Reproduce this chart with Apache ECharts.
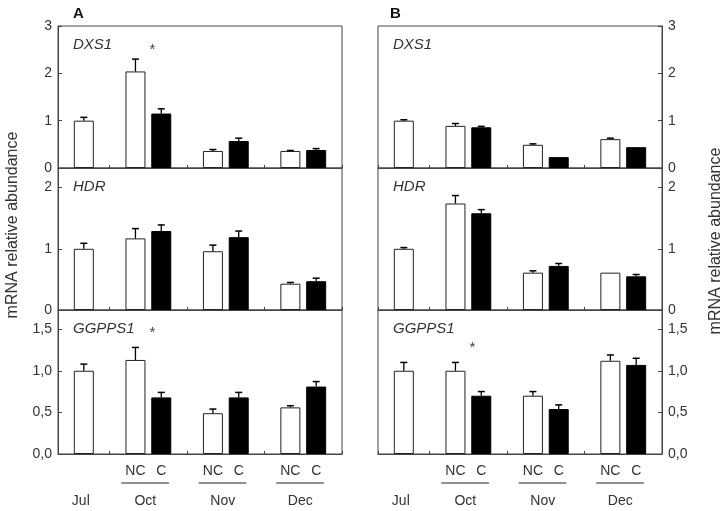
<!DOCTYPE html>
<html><head><meta charset="utf-8">
<script src="https://cdn.jsdelivr.net/npm/echarts@6/dist/echarts.min.js"></script>
<style>html,body{margin:0;padding:0;background:#fff}#c{width:727px;height:511px}</style>
</head><body><div id="c"></div>
<script>
// ---- data ----
const slotLabels = ['', '', '', 'NC', 'C', '', 'NC', 'C', '', 'NC', 'C', ''];
const slotMonths = ['', 'Jul', '', 'Oct', 'Oct', '', 'Nov', 'Nov', '', 'Dec', 'Dec', ''];
const monthNames = ['Jul', 'Oct', 'Nov', 'Dec'];
const genes = ['DXS1', 'HDR', 'GGPPS1'];
const panels = ['A', 'B'];
// bar order: Jul, Oct NC, Oct C, Nov NC, Nov C, Dec NC, Dec C
const A_DXS1 = [1.00, 2.04, 1.15, 0.36, 0.57, 0.36, 0.38];
const A_DXS1_err = [0.07, 0.26, 0.10, 0.03, 0.06, 0.01, 0.03];
const A_HDR = [1.00, 1.17, 1.29, 0.96, 1.19, 0.43, 0.47];
const A_HDR_err = [0.09, 0.16, 0.10, 0.10, 0.10, 0.02, 0.05];
const A_GGPPS1 = [1.00, 1.13, 0.68, 0.49, 0.68, 0.56, 0.81];
const A_GGPPS1_err = [0.08, 0.15, 0.06, 0.05, 0.06, 0.02, 0.06];
const B_DXS1 = [1.00, 0.89, 0.86, 0.49, 0.23, 0.61, 0.44];
const B_DXS1_err = [0.02, 0.05, 0.02, 0.02, 0.00, 0.02, 0.00];
const B_HDR = [1.00, 1.74, 1.58, 0.61, 0.72, 0.61, 0.55];
const B_HDR_err = [0.02, 0.13, 0.06, 0.03, 0.04, 0.00, 0.03];
const B_GGPPS1 = [1.00, 1.00, 0.70, 0.70, 0.54, 1.12, 1.07];
const B_GGPPS1_err = [0.10, 0.10, 0.05, 0.05, 0.05, 0.07, 0.08];
// significance marks: [panel, gene, month, height]
const sigMarks = [['A', 'DXS1', 'Oct', 2.5], ['A', 'GGPPS1', 'Oct', 1.45], ['B', 'GGPPS1', 'Oct', 1.27]];
const yMax = {DXS1: 3, HDR: 2.32, GGPPS1: 1.73};
const yStep = {DXS1: 1, HDR: 1, GGPPS1: 0.5};
const yDecimals = {DXS1: 0, HDR: 0, GGPPS1: 1};
const yName = 'mRNA relative abundance';

const dataSets = {
  A: {DXS1: [A_DXS1, A_DXS1_err], HDR: [A_HDR, A_HDR_err], GGPPS1: [A_GGPPS1, A_GGPPS1_err]},
  B: {DXS1: [B_DXS1, B_DXS1_err], HDR: [B_HDR, B_HDR_err], GGPPS1: [B_GGPPS1, B_GGPPS1_err]}
};

// ---- layout ----
const FONT = 'Liberation Sans, Arial, sans-serif';
const TXT = '#333';
const LINE = '#444';
const gridX = {A: {left: 58, width: 284}, B: {left: 378, width: 284}};
const gridY = [{top: 26, height: 142}, {top: 168, height: 142}, {top: 310, height: 144}];

const barSlots = slotMonths.map((m, i) => m ? i : -1).filter(i => i >= 0);
const halfCats = [];
for (let i = 0; i < slotLabels.length * 2 - 1; i++) halfCats.push('');
monthNames.forEach(m => {
  const idx = slotMonths.map((s, i) => s === m ? i : -1).filter(i => i >= 0);
  const mid = idx.reduce((a, b) => a + b, 0) / idx.length;
  halfCats[Math.round(mid * 2)] = m;
});

const grids = [], xAxes = [], yAxes = [], series = [], titles = [];
let gi = 0, xi = 0;
const bottomAxes = [];
panels.forEach((p, pi) => {
  titles.push({text: p, left: p === 'A' ? 68 : 385, top: 1, textStyle: {fontFamily: FONT, fontSize: 15, fontWeight: 'bold', color: '#111'}});
  genes.forEach((g, ri) => {
    grids.push({left: gridX[p].left, width: gridX[p].width, top: gridY[ri].top, height: gridY[ri].height,
      show: true, borderColor: LINE, borderWidth: 1, backgroundColor: 'transparent'});
    titles.push({text: g, left: gridX[p].left + 10, top: gridY[ri].top + 6,
      textStyle: {fontFamily: FONT, fontSize: 15, fontStyle: 'italic', fontWeight: 'normal', color: TXT}});
    const isBottom = ri === genes.length - 1;
    const mainX = xi;
    xAxes.push({gridIndex: gi, type: 'category', data: slotLabels, boundaryGap: false,
      axisLine: {lineStyle: {color: LINE}}, axisTick: {show: true, inside: true, length: 3, lineStyle: {color: LINE}},
      axisLabel: {show: isBottom, interval: 0, margin: 10, fontFamily: FONT, fontSize: 14, color: TXT}});
    xi++;
    if (isBottom) {
      xAxes.push({gridIndex: gi, type: 'category', data: halfCats, boundaryGap: false, position: 'bottom', offset: 32,
        axisLine: {show: false}, axisTick: {show: false},
        axisLabel: {show: true, interval: 0, margin: 8, padding: [0, 6, 0, 0], fontFamily: FONT, fontSize: 14, color: TXT}});
      xi++;
      bottomAxes.push(mainX);
    }
    const step = yStep[g], dec = yDecimals[g];
    yAxes.push({gridIndex: gi, type: 'value', min: 0, max: yMax[g], interval: step,
      position: p === 'A' ? 'left' : 'right',
      splitLine: {show: false},
      axisLine: {show: true, lineStyle: {color: LINE}},
      axisTick: {show: true, inside: true, length: 4, lineStyle: {color: LINE}},
      axisLabel: {margin: 6, fontFamily: FONT, fontSize: 14, color: TXT,
        formatter: v => {const r = v / step; if (Math.abs(r - Math.round(r)) > 1e-6) return ''; return v.toFixed(dec).replace('.', ',');}}});
    const [vals, errs] = dataSets[p][g];
    const openData = slotLabels.map(() => '-'), fillData = slotLabels.map(() => '-');
    const errData = [];
    barSlots.forEach((s, k) => {
      if (slotLabels[s] === 'C') fillData[s] = vals[k]; else openData[s] = vals[k];
      errData.push([s, vals[k], errs[k]]);
    });
    series.push({type: 'bar', xAxisIndex: mainX, yAxisIndex: gi, data: openData, barWidth: 20, barGap: '-100%',
      itemStyle: {color: '#fff', borderColor: '#222', borderWidth: 1}, silent: true, z: 2});
    series.push({type: 'bar', xAxisIndex: mainX, yAxisIndex: gi, data: fillData, barWidth: 20, barGap: '-100%',
      itemStyle: {color: '#000', borderColor: '#000', borderWidth: 1}, silent: true, z: 2});
    series.push({type: 'custom', xAxisIndex: mainX, yAxisIndex: gi, data: errData, z: 3, silent: true,
      dimensions: ['x', 'v', 'e'], encode: {x: 0, y: 1},
      renderItem: (params, api) => {
        const x = api.value(0), v = api.value(1), e = api.value(2);
        const b = api.coord([x, v]), t = api.coord([x, v + e]);
        if (e <= 0) return null;
        return {type: 'group', children: [
          {type: 'line', shape: {x1: b[0], y1: b[1], x2: t[0], y2: t[1]}, style: {stroke: '#000', lineWidth: 1.3}},
          {type: 'line', shape: {x1: t[0] - 3.5, y1: t[1], x2: t[0] + 3.5, y2: t[1]}, style: {stroke: '#000', lineWidth: 1.5}}
        ]};
      }});
    const marks = sigMarks.filter(m => m[0] === p && m[1] === g).map(m => {
      const idx = slotMonths.map((s, i) => s === m[2] ? i : -1).filter(i => i >= 0);
      return [idx[0], idx[idx.length - 1], m[3]];
    });
    if (marks.length) {
      series.push({type: 'custom', xAxisIndex: mainX, yAxisIndex: gi, data: marks, z: 4, silent: true,
        dimensions: ['x0', 'x1', 'y'], encode: {x: [0, 1], y: 2},
        renderItem: (params, api) => {
          const a = api.coord([api.value(0), api.value(2)]), b = api.coord([api.value(1), api.value(2)]);
          return {type: 'text', x: (a[0] + b[0]) / 2 + 4, y: a[1], style: {text: '*', fontFamily: FONT, fontSize: 15, fill: '#444', align: 'center', verticalAlign: 'middle'}};
        }});
    }
    gi++;
  });
});

const chart = echarts.init(document.getElementById('c'), null, {renderer: 'canvas'});
chart.setOption({animation: false, backgroundColor: '#fff', title: titles, grid: grids, xAxis: xAxes, yAxis: yAxes, series: series});

// underlines below NC / C pairs, positioned via the axis scale; rotated axis titles
const graphics = [];
bottomAxes.forEach(ax => {
  const px = u => {
    const i0 = Math.floor(u), f = u - i0;
    const a = chart.convertToPixel({xAxisIndex: ax}, i0), b = chart.convertToPixel({xAxisIndex: ax}, i0 + 1);
    return a + (b - a) * f;
  };
  const yBase = chart.convertToPixel({yAxisIndex: xAxes[ax].gridIndex}, 0);
  monthNames.forEach(m => {
    const idx = slotMonths.map((s, i) => s === m ? i : -1).filter(i => i >= 0);
    if (idx.length < 2) return;
    const x1 = px(idx[0] - 0.55), x2 = px(idx[idx.length - 1] + 0.3);
    graphics.push({type: 'line', shape: {x1: x1, y1: yBase + 29, x2: x2, y2: yBase + 29}, style: {stroke: '#222', lineWidth: 1}, silent: true});
  });
});
graphics.push({type: 'text', x: 13, y: 225, rotation: Math.PI / 2, style: {text: yName, fontFamily: FONT, fontSize: 16, fill: TXT, align: 'center', verticalAlign: 'middle'}, silent: true});
graphics.push({type: 'text', x: 716, y: 241, rotation: Math.PI / 2, style: {text: yName, fontFamily: FONT, fontSize: 16, fill: TXT, align: 'center', verticalAlign: 'middle'}, silent: true});
chart.setOption({graphic: graphics});
</script></body></html>
